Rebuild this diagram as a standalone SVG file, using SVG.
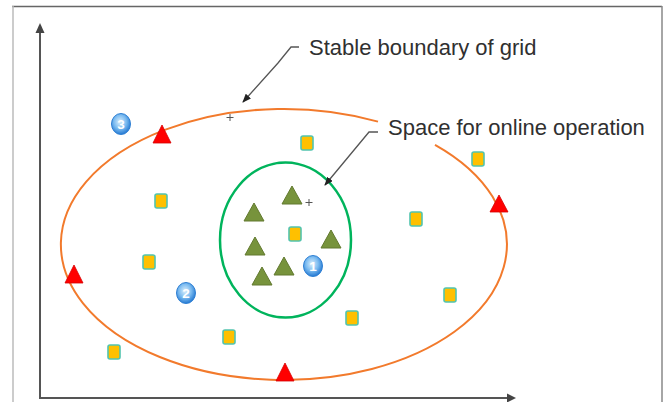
<svg xmlns="http://www.w3.org/2000/svg" width="663" height="402" viewBox="0 0 663 402">
<defs>
<style>
.lbl{font-family:"Liberation Sans",Arial,sans-serif;font-size:22px;fill:#303030}
.num{font-family:"Liberation Sans",Arial,sans-serif;font-size:13.5px;font-weight:bold;fill:#ffffff;text-anchor:middle}
.sq{fill:#FFC000;stroke:#52C4AE;stroke-width:1.6}
.gt{fill:#77933C;stroke:#62792F;stroke-width:1}
.rt{fill:#FF0000;stroke:#D40000;stroke-width:0.8}
.bc{fill:url(#bg);stroke:#2F80D4;stroke-width:1}
.leader{fill:none;stroke:#555;stroke-width:1.3}
.axis{stroke:#555;stroke-width:2;fill:none}
.plus{stroke:#555;stroke-width:1}
</style>
<radialGradient id="bg" cx="45%" cy="40%" r="60%">
<stop offset="0" stop-color="#DCEFFC"/>
<stop offset="0.55" stop-color="#7BBBF0"/>
<stop offset="1" stop-color="#2479D2"/>
</radialGradient>
<marker id="ah" markerWidth="9" markerHeight="7" refX="8" refY="3.5" orient="auto" markerUnits="userSpaceOnUse">
<path d="M0,0 L9,3.5 L0,7 z" fill="#222"/>
</marker>
</defs>
<rect x="0" y="0" width="663" height="402" fill="#ffffff"/>
<g id="frame">
<line x1="12" y1="6.5" x2="662" y2="6.5" stroke="#666" stroke-width="1.5"/>
<line x1="13" y1="6" x2="13" y2="402" stroke="#bbb" stroke-width="1.5"/>
<line x1="662" y1="6" x2="662" y2="402" stroke="#888" stroke-width="1.5"/>
</g>
<g id="axes">
<line class="axis" x1="40" y1="398" x2="40" y2="31"/>
<polygon points="40,23 35.5,33 44.5,33" fill="#444"/>
<line class="axis" x1="39" y1="398" x2="508" y2="398"/>
<polygon points="516,398 507,393.5 507,402.5" fill="#444"/>
</g>
<g id="stable-boundary">
<path d="M435,144.8 A223,135.5 0 1 1 378,121.6" fill="none" stroke="#F27A2C" stroke-width="2"/>
</g>
<g id="online-space">
<ellipse cx="285.5" cy="240" rx="65.5" ry="77.5" fill="none" stroke="#00B45C" stroke-width="2.5"/>
</g>
<g id="connectors">
<polyline class="leader" points="299,47 291,47 278,63 243,102" marker-end="url(#ah)"/>
<polyline class="leader" points="378,132 369,132 325,185" marker-end="url(#ah)"/>
</g>
<g id="label-stable"><text class="lbl" x="309" y="55">Stable boundary of grid</text></g>
<g id="label-space"><text class="lbl" x="388" y="135">Space for online operation</text></g>
<g id="plus-marks">
<path class="plus" d="M226.5,117.5 h7 M230,114 v7"/>
<path class="plus" d="M305.5,202.5 h7 M309,199 v7"/>
</g>
<g id="yellow-squares">
<rect class="sq" x="301" y="136" width="12" height="14" rx="2"/>
<rect class="sq" x="472" y="152" width="12" height="14" rx="2"/>
<rect class="sq" x="155" y="194" width="12" height="14" rx="2"/>
<rect class="sq" x="410" y="212" width="12" height="14" rx="2"/>
<rect class="sq" x="289" y="227" width="12" height="14" rx="2"/>
<rect class="sq" x="143" y="255" width="12" height="14" rx="2"/>
<rect class="sq" x="444" y="288" width="12" height="14" rx="2"/>
<rect class="sq" x="346" y="311" width="12" height="14" rx="2"/>
<rect class="sq" x="223" y="330" width="12" height="14" rx="2"/>
<rect class="sq" x="108" y="345" width="12" height="14" rx="2"/>
</g>
<g id="green-triangles">
<polygon class="gt" points="292,186 302,204 282,204"/>
<polygon class="gt" points="254,203 264,221 244,221"/>
<polygon class="gt" points="331,230 341,248 321,248"/>
<polygon class="gt" points="255,237 265,255 245,255"/>
<polygon class="gt" points="284,257 294,275 274,275"/>
<polygon class="gt" points="262,267 272,285 252,285"/>
</g>
<g id="red-triangles">
<polygon class="rt" points="162,125 171,143 153,143"/>
<polygon class="rt" points="499,195 508,212 490,212"/>
<polygon class="rt" points="74,265 83,283 65,283"/>
<polygon class="rt" points="285,363 294,381 276,381"/>
</g>
<g id="node-3">
<ellipse class="bc" cx="121" cy="124" rx="9.5" ry="10.5"/>
<text class="num" x="121" y="129">3</text>
</g>
<g id="node-2">
<ellipse class="bc" cx="186" cy="293" rx="9.5" ry="10.5"/>
<text class="num" x="186" y="298">2</text>
</g>
<g id="node-1">
<ellipse class="bc" cx="313" cy="266" rx="9.5" ry="10.5"/>
<text class="num" x="313" y="271">1</text>
</g>
</svg>
